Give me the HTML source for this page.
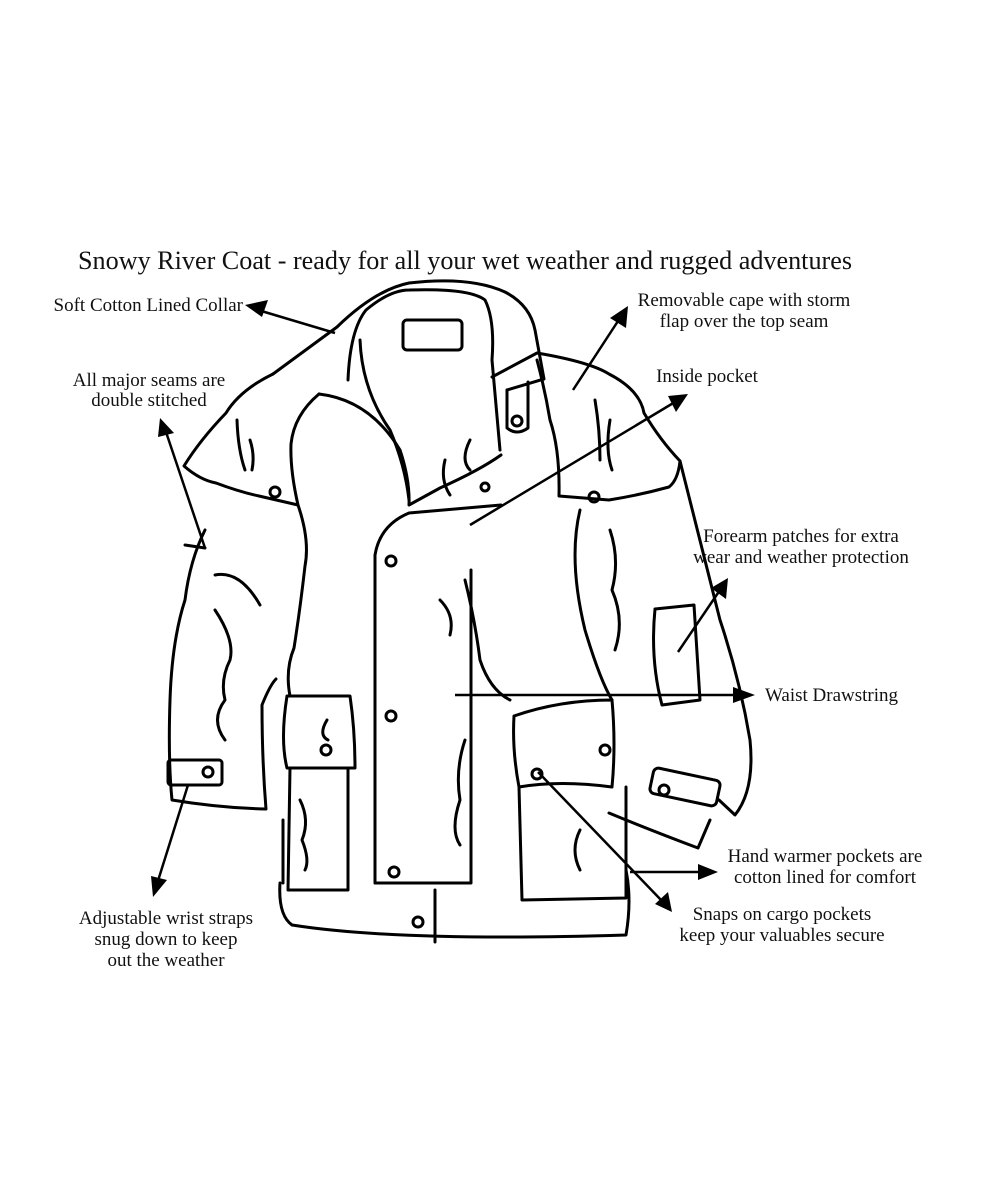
<!DOCTYPE html>
<html><head><meta charset="utf-8"><style>
html,body{margin:0;padding:0;background:#fff;}
svg{display:block}
text{font-family:"Liberation Serif",serif;fill:#111;}
</style></head><body>
<svg width="1000" height="1200" viewBox="0 0 1000 1200" xmlns="http://www.w3.org/2000/svg">
<text x="465" y="269" font-size="26" text-anchor="middle" textLength="774" lengthAdjust="spacingAndGlyphs">Snowy River Coat - ready for all your wet weather and rugged adventures</text>
<g font-size="19" text-anchor="middle">
<text x="243" y="311" text-anchor="end">Soft Cotton Lined Collar</text>
<text x="744" y="306">Removable cape with storm</text>
<text x="744" y="327">flap over the top seam</text>
<text x="149" y="386">All major seams are</text>
<text x="149" y="406">double stitched</text>
<text x="707" y="382">Inside pocket</text>
<text x="801" y="542">Forearm patches for extra</text>
<text x="801" y="563">wear and weather protection</text>
<text x="765" y="701" text-anchor="start">Waist Drawstring</text>
<text x="825" y="862">Hand warmer pockets are</text>
<text x="825" y="883">cotton lined for comfort</text>
<text x="782" y="920">Snaps on cargo pockets</text>
<text x="782" y="941">keep your valuables secure</text>
<text x="166" y="924">Adjustable wrist straps</text>
<text x="166" y="945">snug down to keep</text>
<text x="166" y="966">out the weather</text>
</g>
<g stroke="#000" stroke-width="3" fill="none" stroke-linecap="round" stroke-linejoin="round">
<path d="M273,374 L337,327 Q375,290 409,283 Q470,276 505,292 Q530,305 535,330 L544,379 L507,390"/>
<path d="M348,380 Q350,330 366,310 Q390,290 409,290 Q470,288 485,300 Q495,320 492,360 L500,450"/>
<path d="M360,340 Q362,390 390,430 Q405,465 409,500"/>
<path d="M319,394 Q370,400 400,450 Q410,480 409,505 L440,488 Q480,470 501,455"/>
<rect x="403" y="320" width="59" height="30" rx="4"/>
<path d="M507,390 L507,428 Q517,436 528,428 L528,382"/>
<circle cx="517" cy="421" r="5"/>
<path d="M273,374 Q240,390 226,413 Q200,440 184,466 Q200,480 216,483 Q240,492 259,496 L298,505 Q290,470 291,444 Q294,415 319,394"/>
<path d="M237,420 Q238,450 245,470"/><path d="M250,440 Q255,455 252,470"/>
<circle cx="275" cy="492" r="5"/>
<path d="M492,377 L537,353 Q590,362 609,374 Q640,390 644,413 Q660,440 680,461 Q678,480 669,487 Q640,495 609,500 L559,496 Q560,450 550,420 Q545,390 537,360"/>
<path d="M595,400 Q600,430 600,460"/><path d="M610,420 Q605,450 612,470"/>
<circle cx="594" cy="497" r="5"/>
<path d="M375,883 L375,555 Q380,525 409,513 L501,505"/>
<path d="M471,570 L471,883 L375,883"/>
<circle cx="391" cy="561" r="5"/><circle cx="391" cy="716" r="5"/><circle cx="394" cy="872" r="5"/><circle cx="418" cy="922" r="5"/>
<path d="M280,883 Q278,915 292,925 Q400,942 626,935 Q632,900 626,870"/>
<path d="M435,890 L435,942"/>
<path d="M298,505 Q310,540 305,566 Q300,610 294,648 Q285,670 290,696"/>
<path d="M283,820 L283,883"/>
<path d="M287,696 L350,696 Q355,730 355,768 L287,768 Q280,740 287,696"/>
<path d="M290,768 L288,890 L348,890 L348,768"/>
<circle cx="326" cy="750" r="5"/>
<path d="M327,720 Q318,735 328,740"/><path d="M300,800 Q310,820 302,840 Q310,860 305,870"/>
<path d="M514,716 Q560,700 612,700 Q616,745 612,787 Q560,780 519,787 Q512,750 514,716"/>
<path d="M519,787 L522,900 L626,898 L626,787"/>
<circle cx="605" cy="750" r="5"/><circle cx="537" cy="774" r="5"/>
<path d="M580,830 Q570,850 580,870"/>
<path d="M205,530 Q190,560 185,600 Q172,640 170,700 Q168,760 172,800 Q220,808 266,809 Q262,760 262,705 Q270,685 276,679"/>
<rect x="168" y="760" width="54" height="25" rx="3"/>
<circle cx="208" cy="772" r="5"/>
<path d="M215,575 Q240,570 260,605"/><path d="M215,610 Q235,640 230,660 Q220,680 225,700 Q210,720 225,740"/>
<path d="M185,545 L205,548"/>
<path d="M680,461 Q700,540 720,620 Q740,680 750,740 Q755,790 735,815 L719,800"/>
<path d="M580,510 Q568,560 585,630 Q600,680 612,700"/>
<rect x="651" y="774" width="68" height="26" rx="5" transform="rotate(12 685 787)"/>
<circle cx="664" cy="790" r="5"/>
<path d="M609,813 Q650,830 698,848 L710,820"/>
<path d="M655,609 L694,605 L700,700 L662,705 Q650,660 655,609"/>
<path d="M610,530 Q620,560 612,590 Q625,620 615,650"/>
<path d="M465,580 Q475,620 480,660 Q490,690 510,700"/>
<path d="M440,600 Q455,615 450,635"/>
<path d="M465,740 Q455,770 460,800 Q450,830 460,845"/>
<path d="M470,440 Q460,460 470,470"/><path d="M445,460 Q440,480 450,495"/>
<circle cx="485" cy="487" r="4"/>
</g>
<g stroke="#000" stroke-width="2.5" fill="none">
<line x1="335" y1="333" x2="258" y2="310"/>
<line x1="573" y1="390" x2="620" y2="318"/>
<line x1="205" y1="548" x2="166" y2="432"/>
<line x1="470" y1="525" x2="675" y2="402"/>
<line x1="678" y1="652" x2="720" y2="590"/>
<line x1="455" y1="695" x2="740" y2="695"/>
<line x1="630" y1="872" x2="705" y2="872"/>
<line x1="538" y1="772" x2="662" y2="901"/>
<line x1="188" y1="785" x2="157" y2="884"/>
</g>
<g fill="#000">
<polygon points="245,305 268,300 262,317"/>
<polygon points="628,306 626,328 610,318"/>
<polygon points="160,418 174,433 158,437"/>
<polygon points="688,394 676,412 668,396"/>
<polygon points="728,578 726,599 711,588"/>
<polygon points="755,695 733,687 733,703"/>
<polygon points="718,872 698,864 698,880"/>
<polygon points="672,912 655,904 668,892"/>
<polygon points="153,897 151,876 167,880"/>
</g>
</svg>
</body></html>
